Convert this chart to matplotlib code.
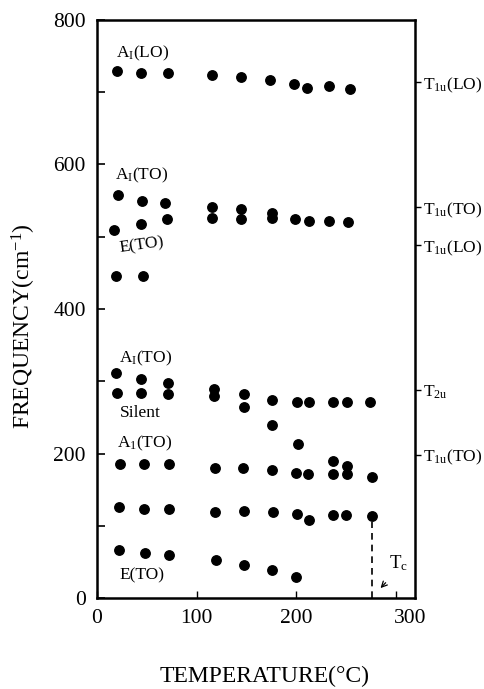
import matplotlib
matplotlib.use('Agg')
import matplotlib.pyplot as plt
from matplotlib.transforms import ScaledTranslation

plt.rcParams['font.family'] = ['Liberation Serif', 'DejaVu Serif']
plt.rcParams['mathtext.fontset'] = 'custom'
plt.rcParams['mathtext.rm'] = 'Liberation Serif'
plt.rcParams['mathtext.it'] = 'Liberation Serif:italic'
plt.rcParams['mathtext.bf'] = 'Liberation Serif:bold'

# ---------------- data ----------------
a1lo_T = [20, 44, 71, 116, 145, 174, 198, 211, 233, 254]
a1lo_f = [729, 726, 726, 724, 721, 717, 711, 706, 708, 705]

a1to_hi_T = [21, 45, 68, 116, 145, 176]
a1to_hi_f = [558, 550, 547, 541, 538, 533]

eto_hi_T = [17, 44, 70, 116, 145, 176, 199, 213, 233, 252]
eto_hi_f = [509, 517, 525, 526, 524, 526, 524, 522, 522, 520]

eto_450_T = [19, 46]
eto_450_f = [446, 446]

a1to_mid_T = [19, 44, 71, 118, 148, 176, 202]
a1to_mid_f = [312, 303, 298, 280, 265, 240, 213]

silent_T = [20, 44, 71, 118, 148, 176, 201, 213, 237, 251, 274]
silent_f = [284, 284, 282, 289, 282, 274, 272, 272, 272, 272, 272]

a1to_lo_T = [23, 47, 72, 119, 147, 176, 200, 212, 237, 251, 276, 237, 251]
a1to_lo_f = [186, 186, 185, 180, 180, 177, 173, 171, 172, 172, 168, 189, 183]

mode120_T = [22, 47, 72, 119, 148, 177, 201, 213, 237, 250, 276]
mode120_f = [126, 123, 123, 119, 120, 119, 117, 108, 115, 115, 113]

eto_lo_T = [22, 48, 72, 120, 148, 176, 200]
eto_lo_f = [66, 63, 60, 53, 46, 39, 29]

tc_T = 276
tc_top = 105

cubic_f = [714, 541, 488, 288, 198]
cubic_labels = [r'T$_{\mathregular{1u}}$(LO)', r'T$_{\mathregular{1u}}$(TO)',
                r'T$_{\mathregular{1u}}$(LO)', r'T$_{\mathregular{2u}}$',
                r'T$_{\mathregular{1u}}$(TO)']

x_ticks = [0, 100, 200, 300]
y_ticks = [0, 200, 400, 600, 800]

# ---------------- figure ----------------
fig = plt.figure(figsize=(4.85, 6.89), dpi=100)
ax = fig.add_axes([0.2, 0.132, 0.6557, 0.839])

series = [(a1lo_T, a1lo_f), (a1to_hi_T, a1to_hi_f), (eto_hi_T, eto_hi_f),
          (eto_450_T, eto_450_f), (a1to_mid_T, a1to_mid_f), (silent_T, silent_f),
          (a1to_lo_T, a1to_lo_f), (mode120_T, mode120_f), (eto_lo_T, eto_lo_f)]
for t, f in series:
    ax.plot(t, f, 'o', color='black', markersize=6.8, linestyle='none')

ax.plot([tc_T, tc_T], [0, tc_top], color='black', linestyle=(0, (4, 3)), linewidth=1.2)

ax.set_xlim(0, 319.6)
ax.set_ylim(0, 800)
ax.set_xticks(x_ticks)
ax.set_yticks(y_ticks)
ax.set_yticks([100, 300, 500, 700], minor=True)
ax.tick_params(axis='both', which='both', direction='in', labelsize=15.5)
ax.tick_params(axis='y', which='major', length=6, width=1.2, pad=8)
ax.tick_params(axis='y', which='minor', length=6, width=1.2)
ax.tick_params(axis='x', which='major', length=5, width=1.0, pad=8)
for s in ax.spines.values():
    s.set_linewidth(1.8)

# shift the last x tick label like in the original
lab = ax.xaxis.get_major_ticks()[-1].label1
lab.set_transform(lab.get_transform() + ScaledTranslation(0.15, 0, fig.dpi_scale_trans))

ax.set_ylabel(r'FREQUENCY(cm$^{\mathregular{-1}}$)', fontsize=17)
ax.yaxis.set_label_coords(-0.185, 0.47)
ax.set_xlabel('TEMPERATURE(°C)', fontsize=17)
ax.xaxis.set_label_coords(0.528, -0.118)

# mode labels
fs = 12.5
ax.text(19, 754, r'A$_{\mathregular{I}}$(LO)', fontsize=fs, va='center', ha='left')
ax.text(18, 585, r'A$_{\mathregular{I}}$(TO)', fontsize=fs, va='center', ha='left')
ax.text(21, 488, 'E(TO)', fontsize=fs, va='center', ha='left', rotation=8)
ax.text(22, 331, r'A$_{\mathregular{I}}$(TO)', fontsize=fs, va='center', ha='left')
ax.text(23, 256, 'Silent', fontsize=fs, va='center', ha='left')
ax.text(20, 214, r'A$_{\mathregular{1}}$(TO)', fontsize=fs, va='center', ha='left')
ax.text(23, 32, 'E(TO)', fontsize=fs, va='center', ha='left')
ax.text(303, 48, r'T$_{\mathregular{c}}$', fontsize=13.5, va='center', ha='center')
ax.annotate('', xy=(283, 11), xytext=(292, 24),
            arrowprops=dict(arrowstyle='->', color='black', lw=0.9))

# cubic-phase labels on the right
ax2 = ax.twinx()
ax2.set_ylim(ax.get_ylim())
ax2.set_yticks(cubic_f)
ax2.set_yticklabels(cubic_labels)
ax2.tick_params(axis='y', direction='out', length=4, width=1.0, pad=2, labelsize=12.5)
for s in ax2.spines.values():
    s.set_visible(False)

fig.savefig('out.png', dpi=100)
